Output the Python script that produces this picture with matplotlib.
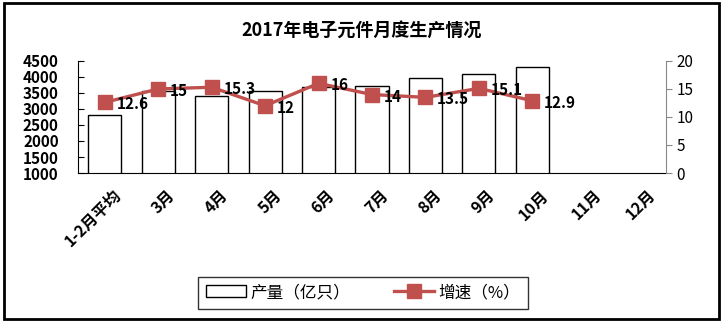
import numpy as np
import matplotlib.pyplot as plt
from matplotlib.patches import Rectangle

plt.rcParams['font.family'] = ['Noto Sans CJK SC', 'DejaVu Sans']

months = ['1-2月平均', '3月', '4月', '5月', '6月', '7月', '8月', '9月', '10月', '11月', '12月']
output = [2810, 3560, 3400, 3560, 3680, 3720, 3960, 4090, 4300]
growth = [12.6, 15, 15.3, 12, 16, 14, 13.5, 15.1, 12.9]
red = '#C0504D'

fig = plt.figure(figsize=(7.23, 3.24), dpi=100)
ax = fig.add_axes([0.108, 0.466, 0.813, 0.346])
x = np.arange(len(months))
xo = np.arange(len(output))

bars = ax.bar(xo, output, width=0.62, color='white', edgecolor='black', linewidth=1.0,
              label='产量（亿只）', zorder=2)
ax.set_ylim(1000, 4500)
ax.set_yticks(np.arange(1000, 4501, 500))
ax.set_xlim(-0.5, len(months) - 0.5)
ax.set_xticks(x + 0.15)
ax.set_xticklabels(months, rotation=45, ha='right', rotation_mode='anchor',
                   fontsize=11.5, fontweight='bold')
for lbl in ax.get_yticklabels():
    lbl.set_fontweight('bold')
    lbl.set_fontsize(11)
ax.tick_params(axis='x', length=0, pad=10)
ax.tick_params(axis='y', direction='in', length=4, pad=14)
ax.spines['top'].set_visible(False)
ax.spines['right'].set_visible(False)

ax2 = ax.twinx()
line, = ax2.plot(xo, growth, color=red, lw=2.4, marker='s', markersize=9.5,
                 label='增速（%）', zorder=3)
ax2.set_ylim(0, 20)
ax2.set_yticks([0, 5, 10, 15, 20])
ax2.tick_params(axis='y', colors='#888888', labelcolor='black', labelsize=11, length=4)
ax2.spines['right'].set_color('#888888')
for s in ['top', 'left', 'bottom']:
    ax2.spines[s].set_visible(False)
for xi, g in zip(xo, growth):
    ax2.annotate(f'{g:g}', (xi, g), xytext=(8.5, -1.5), textcoords='offset points',
                 ha='left', va='center', fontsize=11, fontweight='bold', zorder=4)

fig.suptitle('2017年电子元件月度生产情况', y=0.935, fontsize=13, fontweight='bold')

fig.legend([bars, line], ['产量（亿只）', '增速（%）'], loc='center',
           bbox_to_anchor=(0.502, 0.097), ncol=2, frameon=True, fancybox=False,
           edgecolor='black', fontsize=12, handlelength=2.4, handletextpad=0.3,
           columnspacing=2.6, borderpad=0.45)

fig.patches.append(Rectangle((0.005, 0.015), 0.99, 0.975, transform=fig.transFigure,
                             fill=False, edgecolor='black', linewidth=2))

fig.savefig('out.png', dpi=100)
